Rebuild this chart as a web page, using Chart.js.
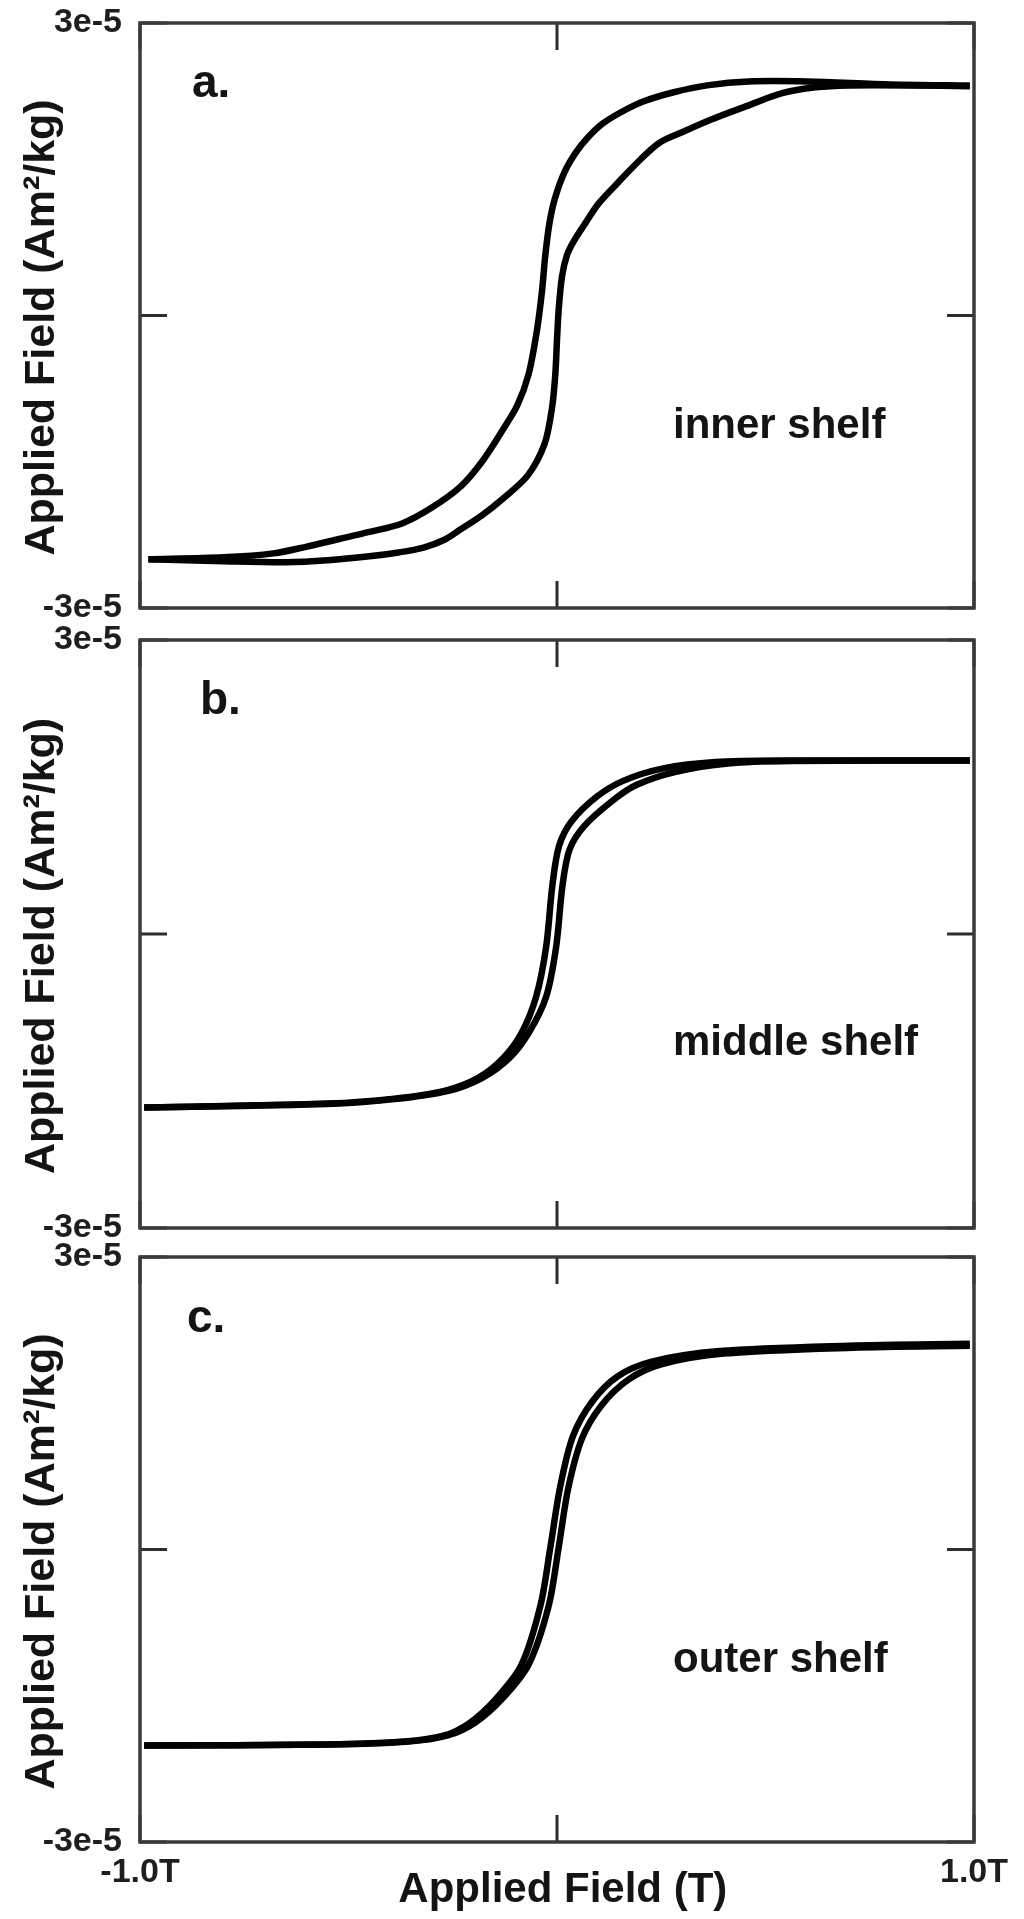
<!DOCTYPE html>
<html>
<head>
<meta charset="utf-8">
<title>Hysteresis loops - shelf sediments</title>
<script src="https://cdn.jsdelivr.net/npm/chart.js@4.4.0/dist/chart.umd.min.js"></script>
<style>
    html, body { margin: 0; padding: 0; background: #fff; }
    body { width: 1024px; height: 1919px; position: relative; overflow: hidden; }
    canvas { position: absolute; left: 0; }
</style>
</head>
<body>
<canvas id="painelA" width="1024" height="632" style="top:0px"></canvas>
<canvas id="painelB" width="1024" height="627" style="top:624px"></canvas>
<canvas id="painelC" width="1024" height="679" style="top:1240px"></canvas>
<script>
// eixos (momento em unidades de 1e-5 Am2/kg, campo em T)
var ticksX = [-1, 0, 1];
var rotulosX = ['-1.0T', '', '1.0T'];
var ticksY = [-3, 0, 3];
var rotulosY = ['-3e-5', '', '3e-5'];

// a. inner shelf - ramo descendente (de +1T para -1T)
var campoA_desc = [0.99, 0.80, 0.60, 0.46, 0.36, 0.28, 0.21, 0.16, 0.11, 0.075, 0.045, 0.018, -0.005, -0.018, -0.028, -0.036, -0.048, -0.068, -0.095, -0.134, -0.18, -0.23, -0.30, -0.37, -0.45, -0.52, -0.60, -0.68, -0.80, -0.98];
var momA_desc = [2.36, 2.37, 2.40, 2.40, 2.36, 2.29, 2.20, 2.10, 1.97, 1.83, 1.67, 1.47, 1.20, 0.95, 0.62, 0.25, -0.15, -0.60, -0.92, -1.20, -1.50, -1.75, -1.97, -2.13, -2.22, -2.29, -2.37, -2.44, -2.48, -2.50];
// a. inner shelf - ramo ascendente (de -1T para +1T)
var campoA_asc = [-0.98, -0.80, -0.65, -0.55, -0.45, -0.38, -0.32, -0.27, -0.23, -0.18, -0.13, -0.07, -0.03, -0.012, -0.004, 0.0, 0.004, 0.012, 0.024, 0.04, 0.07, 0.10, 0.15, 0.20, 0.245, 0.30, 0.37, 0.45, 0.54, 0.62, 0.70, 0.85, 0.99];
var momA_asc = [-2.50, -2.52, -2.53, -2.51, -2.47, -2.43, -2.38, -2.30, -2.19, -2.05, -1.88, -1.64, -1.32, -0.95, -0.60, -0.25, 0.06, 0.40, 0.62, 0.76, 0.96, 1.15, 1.38, 1.60, 1.77, 1.88, 2.01, 2.14, 2.28, 2.34, 2.36, 2.36, 2.35];

// b. middle shelf
var campoB_desc = [0.99, 0.55, 0.38, 0.255, 0.16, 0.095, 0.035, 0.005, -0.011, -0.026, -0.05, -0.085, -0.13, -0.19, -0.27, -0.39, -0.55, -0.99];
var momB_desc = [1.77, 1.77, 1.755, 1.69, 1.565, 1.40, 1.15, 0.90, 0.50, -0.13, -0.64, -1.01, -1.27, -1.47, -1.60, -1.68, -1.73, -1.77];
var campoB_asc = [-0.99, -0.55, -0.39, -0.26, -0.18, -0.115, -0.068, -0.026, -0.002, 0.013, 0.03, 0.065, 0.13, 0.19, 0.285, 0.41, 0.56, 0.99];
var momB_asc = [-1.77, -1.735, -1.685, -1.60, -1.47, -1.27, -1.01, -0.64, -0.13, 0.49, 0.86, 1.10, 1.35, 1.52, 1.655, 1.74, 1.765, 1.77];

// c. outer shelf
var campoC_desc = [0.99, 0.70, 0.39, 0.225, 0.145, 0.085, 0.038, 0.007, -0.016, -0.04, -0.086, -0.148, -0.21, -0.272, -0.365, -0.55, -0.99];
var momC_desc = [2.11, 2.09, 2.035, 1.925, 1.775, 1.52, 1.16, 0.63, 0.02, -0.58, -1.19, -1.54, -1.78, -1.91, -1.97, -2.00, -2.01];
var campoC_asc = [-0.99, -0.55, -0.355, -0.26, -0.196, -0.132, -0.068, -0.02, 0.004, 0.027, 0.06, 0.107, 0.172, 0.25, 0.40, 0.71, 0.99];
var momC_asc = [-2.01, -2.00, -1.97, -1.905, -1.775, -1.535, -1.18, -0.58, 0.02, 0.63, 1.14, 1.48, 1.745, 1.90, 2.01, 2.07, 2.09];

var fonte = '"Liberation Sans", Arial, Helvetica, sans-serif';
Chart.defaults.font.family = fonte;
Chart.defaults.color = '#1e1e1e';

function montarPontos(campo, mom) {
    var pontos = [];
    for (var i = 0; i < campo.length; i++) {
        pontos.push({ x: campo[i], y: mom[i] });
    }
    return pontos;
}

function serie(campo, mom) {
    return {
        data: montarPontos(campo, mom),
        showLine: true,
        borderColor: '#000',
        borderWidth: 6.5,
        pointRadius: 0,
        tension: 0.3,
        fill: false
    };
}

// moldura + ticks para dentro
var molduraPlugin = {
    id: 'moldura',
    afterDatasetsDraw: function (chart) {
        var ctx = chart.ctx;
        var area = chart.chartArea;
        var sx = chart.scales.x;
        var sy = chart.scales.y;
        var tam = 27;
        ctx.save();
        ctx.strokeStyle = '#2e2e2e';
        ctx.lineWidth = 3;
        ctx.beginPath();
        ticksX.forEach(function (v) {
            var px = sx.getPixelForValue(v);
            ctx.moveTo(px, area.top);
            ctx.lineTo(px, area.top + tam);
            ctx.moveTo(px, area.bottom);
            ctx.lineTo(px, area.bottom - tam);
        });
        ticksY.forEach(function (v) {
            var py = sy.getPixelForValue(v);
            ctx.moveTo(area.left, py);
            ctx.lineTo(area.left + tam, py);
            ctx.moveTo(area.right, py);
            ctx.lineTo(area.right - tam, py);
        });
        ctx.stroke();
        ctx.lineWidth = 3.5;
        ctx.strokeStyle = '#3a3a3a';
        ctx.strokeRect(area.left, area.top, area.right - area.left, area.bottom - area.top);
        ctx.restore();
    }
};

function criarPainel(idCanvas, datasets, letra, nome, padding, eixoX) {
    var textosPlugin = {
        id: 'textos' + idCanvas,
        afterDraw: function (chart) {
            var ctx = chart.ctx;
            var area = chart.chartArea;
            ctx.save();
            ctx.fillStyle = '#141414';
            ctx.textBaseline = 'alphabetic';
            ctx.textAlign = 'left';
            ctx.font = 'bold 46px ' + fonte;
            ctx.fillText(letra.texto, area.left + letra.dx, area.top + letra.dy);
            ctx.font = 'bold 42px ' + fonte;
            ctx.fillText(nome, area.left + 533, area.top + 415);
            ctx.restore();
        }
    };

    var escalaX = {
        type: 'linear',
        min: -1,
        max: 1,
        display: false
    };

    if (eixoX) {
        escalaX = {
            type: 'linear',
            min: -1,
            max: 1,
            display: true,
            afterBuildTicks: function (s) {
                s.ticks = ticksX.map(function (v) { return { value: v }; });
            },
            afterFit: function (s) {
                s.height = 77;
                s.paddingLeft = 0;
                s.paddingRight = 0;
            },
            grid: { display: false, drawTicks: false },
            border: { display: false },
            ticks: {
                padding: 14,
                maxRotation: 0,
                autoSkip: false,
                color: '#1e1e1e',
                font: { size: 34, weight: 'bold', lineHeight: 1 },
                callback: function (v, i) { return rotulosX[i]; }
            },
            title: {
                display: true,
                text: ' Applied Field (T)',
                color: '#141414',
                font: { size: 42, weight: 'bold', lineHeight: 1.2 },
                padding: { top: 0, bottom: 3 }
            }
        };
    }

    return new Chart(document.getElementById(idCanvas), {
        type: 'scatter',
        data: { datasets: datasets },
        options: {
            responsive: false,
            animation: false,
            layout: { padding: padding },
            plugins: {
                legend: { display: false },
                tooltip: { enabled: false }
            },
            scales: {
                x: escalaX,
                y: {
                    type: 'linear',
                    min: -3,
                    max: 3,
                    afterBuildTicks: function (s) {
                        s.ticks = ticksY.map(function (v) { return { value: v }; });
                    },
                    afterFit: function (s) {
                        s.width = 140;
                        s.paddingTop = 0;
                        s.paddingBottom = 0;
                    },
                    grid: { display: false, drawTicks: false },
                    border: { display: false },
                    ticks: {
                        padding: 18,
                        color: '#1e1e1e',
                        font: { size: 34, weight: 'bold', lineHeight: 1 },
                        callback: function (v, i) { return rotulosY[i]; }
                    },
                    title: {
                        display: true,
                        text: 'Applied Field (Am²/kg)  ',
                        color: '#141414',
                        font: { size: 43, weight: 'bold', lineHeight: 1.2 },
                        padding: { top: 16, bottom: 0 }
                    }
                }
            }
        },
        plugins: [molduraPlugin, textosPlugin]
    });
}

criarPainel('painelA',
    [serie(campoA_desc, momA_desc), serie(campoA_asc, momA_asc)],
    { texto: 'a.', dx: 52, dy: 74 }, 'inner shelf',
    { top: 23, bottom: 24, left: 0, right: 50 }, false);

criarPainel('painelB',
    [serie(campoB_desc, momB_desc), serie(campoB_asc, momB_asc)],
    { texto: 'b.', dx: 60, dy: 74 }, 'middle shelf',
    { top: 16, bottom: 23, left: 0, right: 50 }, false);

criarPainel('painelC',
    [serie(campoC_desc, momC_desc), serie(campoC_asc, momC_asc)],
    { texto: 'c.', dx: 47, dy: 75 }, 'outer shelf',
    { top: 17, bottom: 0, left: 0, right: 50 }, true);
</script>
</body>
</html>
